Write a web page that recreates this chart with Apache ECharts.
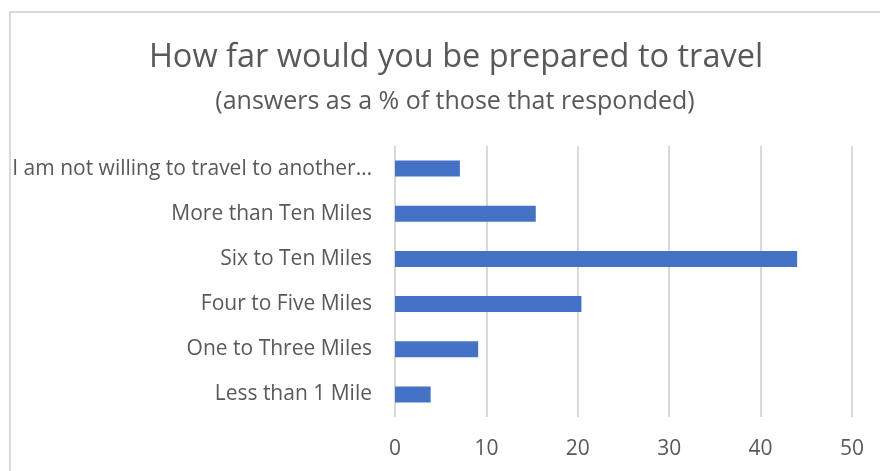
<!DOCTYPE html>
<html>
<head>
<meta charset="utf-8">
<script src="https://cdn.jsdelivr.net/npm/echarts@6/dist/echarts.min.js"></script>
<style>
    html, body { margin: 0; padding: 0; background: #fff; }
    #frame { position: absolute; left: 9px; top: 11px; width: 900px; height: 500px;
             border-left: 2px solid #d9d9d9; border-top: 2px solid #d9d9d9; }
    #chart { position: absolute; left: 0; top: 0; width: 880px; height: 471px; }
</style>
</head>
<body>
<div id="frame"></div>
<div id="chart"></div>
<script>
    // 分类（从上到下）
    const categories = [
        'I am not willing to travel to another…',
        'More than Ten Miles',
        'Six to Ten Miles',
        'Four to Five Miles',
        'One to Three Miles',
        'Less than 1 Mile'
    ]
    // 百分比
    const values = [7.1, 15.4, 44.0, 20.4, 9.1, 3.9]
    const xTicks = [0, 10, 20, 30, 40, 50]

    const font = '"Open Sans", "Noto Sans", sans-serif'
    const textColor = '#595959'

    const chart = echarts.init(document.getElementById('chart'))
    chart.setOption({
        animation: false,
        textStyle: { fontFamily: font },
        title: [
            {
                text: 'How far would you be prepared to travel',
                left: 451, top: 32, textAlign: 'center',
                textStyle: { fontFamily: font, fontSize: 32.5, fontWeight: 'normal', color: textColor, lineHeight: 42 }
            },
            {
                text: '(answers as a % of those that responded)',
                left: 450, top: 80, textAlign: 'center',
                textStyle: { fontFamily: font, fontSize: 25, fontWeight: 'normal', color: textColor, lineHeight: 34 }
            }
        ],
        grid: { left: 395, right: 28, top: 146, bottom: 54, containLabel: false },
        xAxis: {
            type: 'value',
            min: xTicks[0], max: xTicks[xTicks.length - 1], interval: 10,
            axisLine: { show: false },
            axisTick: { show: false },
            splitLine: { show: true, lineStyle: { color: '#d9d9d9', width: 2 } },
            axisLabel: { color: textColor, fontSize: 21, fontFamily: font, margin: 22 }
        },
        yAxis: {
            type: 'category',
            inverse: true,
            data: categories,
            axisLine: { show: false },
            axisTick: { show: false },
            axisLabel: { color: textColor, fontSize: 21, fontFamily: font, margin: 23 }
        },
        series: [{
            type: 'bar',
            data: values,
            barWidth: 16,
            itemStyle: { color: '#4472C4' }
        }]
    })
</script>
</body>
</html>
